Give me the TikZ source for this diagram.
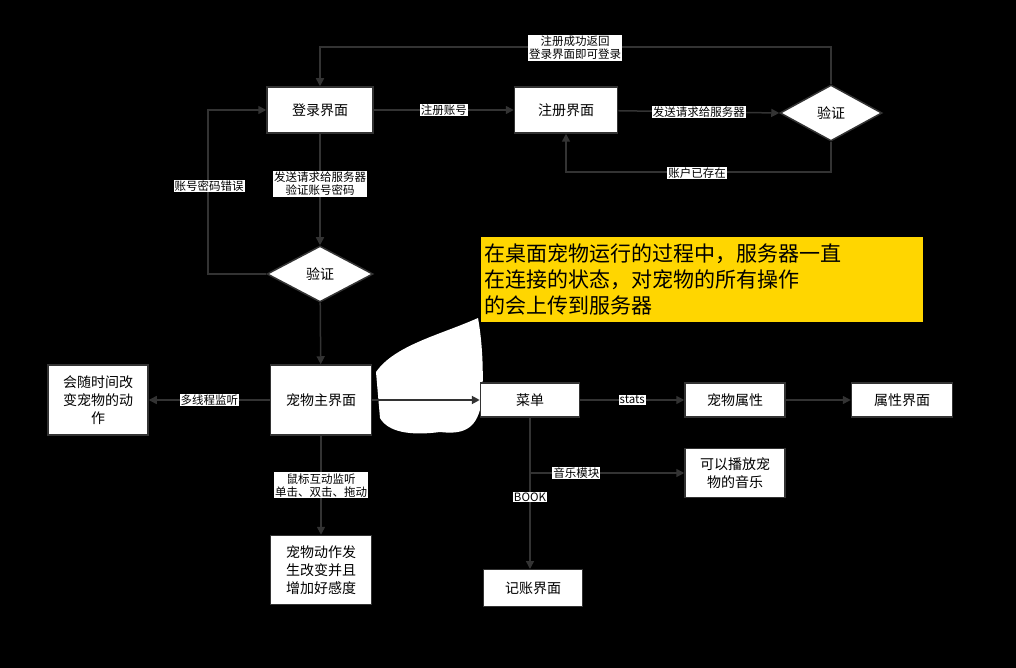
\documentclass[tikz,border=0pt]{standalone}
\usepackage{fontspec}
\setmainfont{Noto Sans CJK SC}
\usetikzlibrary{shapes.geometric,arrows.meta}
\definecolor{linecol}{rgb}{0.2,0.2,0.2}
\definecolor{noteyellow}{rgb}{1.0,0.84,0.0}
\tikzset{
  box/.style={draw=linecol,line width=1.5bp,fill=white,align=center,font=\fontsize{14bp}{18bp}\selectfont,inner sep=2bp},
  check/.style={diamond,aspect=1.9,draw=linecol,line width=1.5bp,fill=white,font=\fontsize{14bp}{18bp}\selectfont,inner sep=1bp},
  tag/.style={fill=white,align=center,font=\fontsize{11.5bp}{13bp}\selectfont,inner sep=1bp},
  flow/.style={draw=linecol,line width=1.5bp,-{Triangle[length=8bp,width=8bp]}},
}
\begin{document}
\begin{tikzpicture}[x=1bp,y=-1bp]
  \fill[black] (0,0) rectangle (1016,668);
  \useasboundingbox (0,0) rectangle (1016,668);
  % white blob behind the menu arrow
  \fill[white] (376,372) .. controls (395,345) and (440,335) .. (478,318)
    .. controls (482,340) and (484,370) .. (482,400)
    .. controls (478,428) and (465,435) .. (440,432)
    .. controls (410,436) and (388,432) .. (380,418) -- cycle;
  % Node: notes
  \node[fill=noteyellow,text=black,align=left,anchor=north west,minimum width=441bp,minimum height=85bp,text width=436bp,inner sep=3bp,font=\fontsize{21bp}{26bp}\selectfont] (note) at (481,237)
    {在桌面宠物运行的过程中，服务器一直\\在连接的状态，对宠物的所有操作\\的会上传到服务器};
  % Nodes
  \node[box,minimum width=106bp,minimum height=46bp] (login) at (320,110) {登录界面};
  \node[box,minimum width=103bp,minimum height=46bp] (reg) at (566,110) {注册界面};
  \node[check,minimum width=102bp,minimum height=56bp] (check1) at (831,113) {验证};
  \node[check,minimum width=106bp,minimum height=56bp] (check2) at (320,274) {验证};
  \node[box,minimum width=101bp,minimum height=70bp] (pet) at (321,400) {宠物主界面};
  \node[box,minimum width=100bp,minimum height=70bp] (anim) at (98,400) {会随时间改\\变宠物的动\\作};
  \node[box,minimum width=99bp,minimum height=34bp] (menu) at (530,400) {菜单};
  \node[box,minimum width=100bp,minimum height=34bp] (attr) at (735,400) {宠物属性};
  \node[box,minimum width=101bp,minimum height=34bp] (attrui) at (902,400) {属性界面};
  \node[box,minimum width=100bp,minimum height=49bp] (music) at (735,473) {可以播放宠\\物的音乐};
  \node[box,minimum width=99bp,minimum height=37bp] (book) at (533,588) {记账界面};
  \node[box,minimum width=101bp,minimum height=69bp] (react) at (321,570) {宠物动作发\\生改变并且\\增加好感度};
  \coordinate (mbranch) at (530,473);
  % Edges
  \draw[flow] (check1.north) |- (575,47) -| (login.north);
  \node[tag] (t1) at (575,48) {注册成功返回\\登录界面即可登录};
  \draw[flow] (login) -- node[tag] {注册账号} (reg);
  \draw[flow] (reg) -- node[tag] {发送请求给服务器} (check1.west);
  \draw[flow] (check1.south) |- (697,172) -| (reg.south);
  \node[tag] (t2) at (697,173) {账户已存在};
  \draw[flow] (login) -- node[tag,pos=0.45] {发送请求给服务器\\验证账号密码} (check2);
  \draw[flow] (check2.west) -| (208,110) -- (login.west);
  \node[tag] (t3) at (209,186) {账号密码错误};
  \draw[flow] (check2) -- (pet);
  \draw[flow] (pet) -- node[tag] {多线程监听} (anim);
  \draw[flow,line width=2.5bp] (pet) -- (menu);
  \draw[flow] (menu) -- node[tag] {stats} (attr);
  \draw[flow] (attr) -- (attrui);
  \draw[flow] (menu.south) -- (mbranch) -- node[tag,pos=0.3] {音乐模块} (music.west);
  \draw[flow] (mbranch) -- node[tag,pos=0.25] {BOOK} (530,569);
  \draw[flow] (pet) -- node[tag] {鼠标互动监听\\单击、双击、拖动} (react);
\end{tikzpicture}
\end{document}
